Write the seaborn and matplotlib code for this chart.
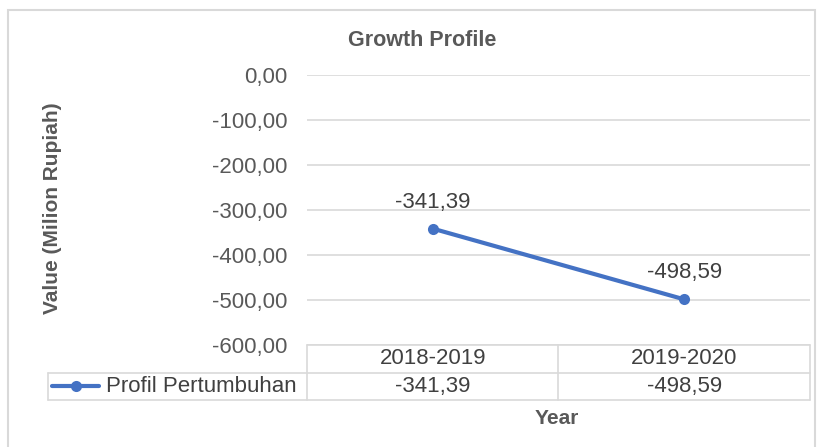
import numpy as np
import pandas as pd
import matplotlib
matplotlib.use('Agg')
import matplotlib.pyplot as plt
import matplotlib.transforms as mtransforms
from matplotlib.lines import Line2D
from matplotlib.patches import Rectangle
import seaborn as sns

# data
years = ['2018-2019', '2019-2020']
values = [-341.39, -498.59]
series_name = 'Profil Pertumbuhan'
y_ticks = [0, -100, -200, -300, -400, -500, -600]

BLUE = '#4472C4'
GRID = '#d9d9d9'
TXT = '#595959'
DARK = '#404040'
FS = 16


def fmt(v):
    return f'{v:.2f}'.replace('.', ',')


sns.set_theme(style='white')
plt.rcParams['font.family'] = ['Liberation Sans', 'DejaVu Sans']

df = pd.DataFrame({'Year': years, 'Value': values})

fig = plt.figure(figsize=(8.25, 4.47), dpi=100)
ax = fig.add_axes([0.3721, 0.2282, 0.6097, 0.604])

sns.lineplot(data=df, x='Year', y='Value', ax=ax, color=BLUE, lw=3,
             marker='o', markersize=8, markeredgewidth=0, sort=False)

ax.set_xlim(-0.5, 1.5)
ax.set_ylim(-600, 0)
ax.set_yticks(y_ticks)
ax.set_yticklabels([fmt(t) for t in y_ticks], fontsize=FS, color=TXT)
ax.tick_params(axis='y', length=0, pad=14)
ax.set_xticks([])
ax.set_xlabel('')
ax.set_ylabel('')
for s in ax.spines.values():
    s.set_visible(False)
ax.grid(axis='y', color=GRID, lw=1.2)
ax.grid(axis='x', visible=False)

# data labels
for i, v in enumerate(values):
    ax.annotate(fmt(v), (i, v), xytext=(0, 19), textcoords='offset points',
                ha='center', va='center', fontsize=FS, color=DARK)

# data table under the axis
tr = mtransforms.blended_transform_factory(ax.transData, ax.transAxes)
r1, r2 = -0.1037, -0.2037
lab_left = -0.515
line_kw = dict(color=GRID, lw=1.2, clip_on=False)
ax.plot([-0.5, 1.5], [0, 0], transform=tr, **line_kw)
ax.add_line(Line2D([lab_left, 1.0], [r1, r1], transform=ax.transAxes, **line_kw))
ax.add_line(Line2D([lab_left, 1.0], [r2, r2], transform=ax.transAxes, **line_kw))
ax.add_line(Line2D([lab_left, lab_left], [r1, r2], transform=ax.transAxes, **line_kw))
for xe in [-0.5, 0.5, 1.5]:
    ax.plot([xe, xe], [0, r2], transform=tr, **line_kw)

for i, (yr, v) in enumerate(zip(years, values)):
    ax.text(i, r1 / 2, yr, transform=tr, ha='center', va='center',
            fontsize=FS, color=DARK)
    ax.text(i, (r1 + r2) / 2, fmt(v), transform=tr, ha='center', va='center',
            fontsize=FS, color=DARK)

# legend key inside table
ym = (r1 + r2) / 2
ax.add_line(Line2D([-0.507, -0.413], [ym, ym], transform=ax.transAxes,
                   color=BLUE, lw=3, clip_on=False))
ax.add_line(Line2D([-0.46], [ym], transform=ax.transAxes, color=BLUE,
                   marker='o', markersize=8, markeredgewidth=0, clip_on=False))
ax.text(-0.40, ym, series_name, transform=ax.transAxes, ha='left', va='center',
        fontsize=FS, color=DARK)

# titles
fig.text(422 / 825, 1 - 41 / 447, 'Growth Profile', ha='center', va='center',
         fontsize=15.5, fontweight='bold', color=TXT)
fig.text(53 / 825, 1 - 208 / 447, 'Value (Milion Rupiah)', ha='center',
         va='center', rotation=90, fontsize=15, fontweight='bold', color=TXT)
fig.text(557 / 825, 1 - 418 / 447, 'Year', ha='center', va='center',
         fontsize=15, fontweight='bold', color=TXT)

# chart area border
fig.add_artist(Rectangle((8 / 825, -0.1), 807 / 825, 1 - 10 / 447 + 0.1,
                         transform=fig.transFigure, fill=False,
                         edgecolor=GRID, lw=1.5))

fig.savefig('out.png', dpi=100)
